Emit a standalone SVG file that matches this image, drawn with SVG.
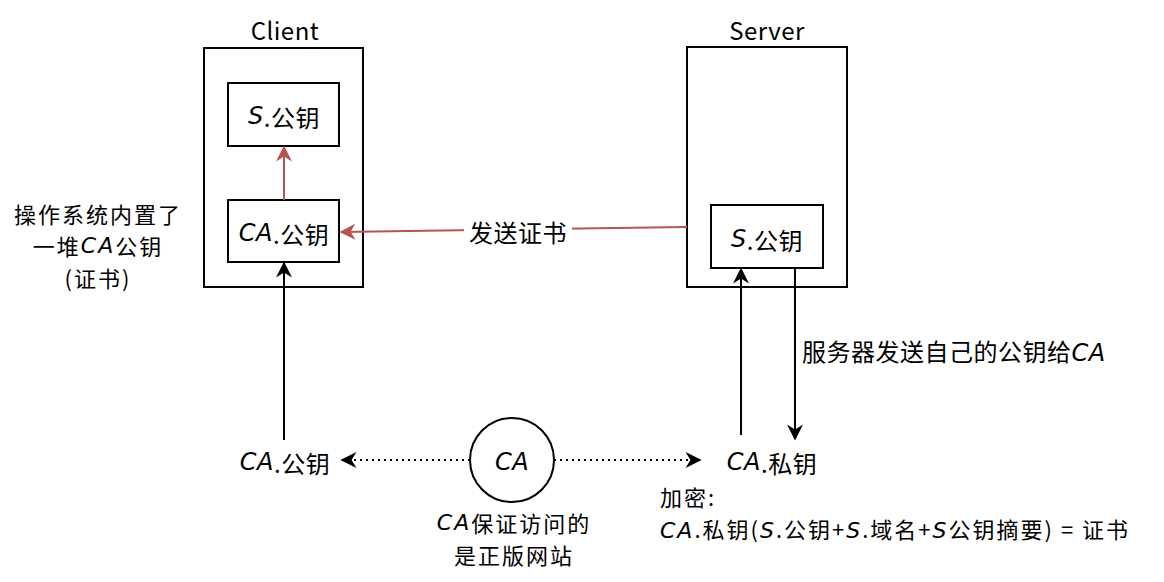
<svg xmlns="http://www.w3.org/2000/svg" width="1164" height="582" viewBox="0 0 1164 582">
<style>
text{font-family:"Noto Sans CJK SC","Noto Sans",sans-serif;font-size:24px;fill:#000;letter-spacing:0.5px;}
.t{text-anchor:middle;dominant-baseline:central;}
.m{font-size:22px;letter-spacing:2px;}
.i{font-style:italic;font-family:"DejaVu Sans","Noto Sans",sans-serif;}
.box{fill:#fff;stroke:#000;stroke-width:2;}
.blk{fill:none;stroke:#000;stroke-width:2;}
.red{fill:none;stroke:#b85450;stroke-width:2;}
.dot{fill:none;stroke:#000;stroke-width:2;stroke-dasharray:2 4;}
</style>
<defs>
<marker id="ab" viewBox="0 0 10 10" refX="9" refY="5" markerWidth="8" markerHeight="8" markerUnits="userSpaceOnUse" orient="auto" overflow="visible">
<path d="M0,0 L10,5 L0,10 L3,5 z" fill="#000" transform="scale(2) translate(-4.5,-2.5)"/>
</marker>
<marker id="ar" viewBox="0 0 10 10" refX="9" refY="5" markerWidth="8" markerHeight="8" markerUnits="userSpaceOnUse" orient="auto" overflow="visible">
<path d="M0,0 L10,5 L0,10 L3,5 z" fill="#b85450" transform="scale(2) translate(-4.5,-2.5)"/>
</marker>
</defs>

<g id="client">
<rect class="box" x="204" y="48" width="159" height="239"/>
<text class="t" x="285" y="29">Client</text>
</g>
<g id="client-spub">
<rect class="box" x="228" y="83" width="111" height="63"/>
<text class="t" x="284" y="116"><tspan class="i">S</tspan>.公钥</text>
</g>
<g id="client-capub">
<rect class="box" x="228" y="200" width="111" height="62"/>
<text class="t" x="284" y="233"><tspan class="i">CA</tspan>.公钥</text>
</g>

<g id="server">
<rect class="box" x="687" y="47" width="160" height="240"/>
<text class="t" x="767" y="29">Server</text>
</g>
<g id="server-spub">
<rect class="box" x="711" y="205" width="112" height="63"/>
<text class="t" x="767" y="239"><tspan class="i">S</tspan>.公钥</text>
</g>

<g id="ca">
<circle cx="512" cy="460" r="42" fill="#fff" stroke="#000" stroke-width="2"/>
<text class="t i" x="512" y="462">CA</text>
</g>
<g id="ca-pub">
<text class="t" x="285" y="462"><tspan class="i">CA</tspan>.公钥</text>
</g>
<g id="ca-priv">
<text class="t" x="772" y="462"><tspan class="i">CA</tspan>.私钥</text>
</g>

<g id="labels">
<text class="t m" x="98" y="213"><tspan x="98" y="213">操作系统内置了</tspan><tspan x="98" y="245">一堆<tspan class="i">CA</tspan>公钥</tspan><tspan x="98" y="277">(证书)</tspan></text>
<text class="t m" x="514" y="522"><tspan x="514" y="522"><tspan class="i">CA</tspan>保证访问的</tspan><tspan x="514" y="554">是正版网站</tspan></text>
<text class="m" x="660" y="506"><tspan x="660" y="506">加密:</tspan><tspan x="660" y="538"><tspan class="i">CA</tspan>.私钥(<tspan class="i">S</tspan>.公钥+<tspan class="i">S</tspan>.域名+<tspan class="i">S</tspan>公钥摘要) = 证书</tspan></text>
<text x="802" y="361">服务器发送自己的公钥给<tspan class="i">CA</tspan></text>
</g>

<g id="connectors">
<line class="red" x1="284" y1="200" x2="284" y2="147" marker-end="url(#ar)"/>
<line class="red" x1="687" y1="227" x2="341" y2="232" marker-end="url(#ar)"/>
<rect x="464" y="215" width="108" height="32" fill="#fff"/>
<text class="t" x="518" y="231">发送证书</text>
<line class="blk" x1="284" y1="440" x2="284" y2="263" marker-end="url(#ab)"/>
<line class="blk" x1="741" y1="435" x2="741" y2="269" marker-end="url(#ab)"/>
<line class="blk" x1="795" y1="268" x2="795" y2="439" marker-end="url(#ab)"/>
<line class="dot" x1="470" y1="460" x2="342" y2="460" marker-end="url(#ab)"/>
<line class="dot" x1="554" y1="460" x2="700" y2="460" marker-end="url(#ab)"/>
</g>
</svg>
